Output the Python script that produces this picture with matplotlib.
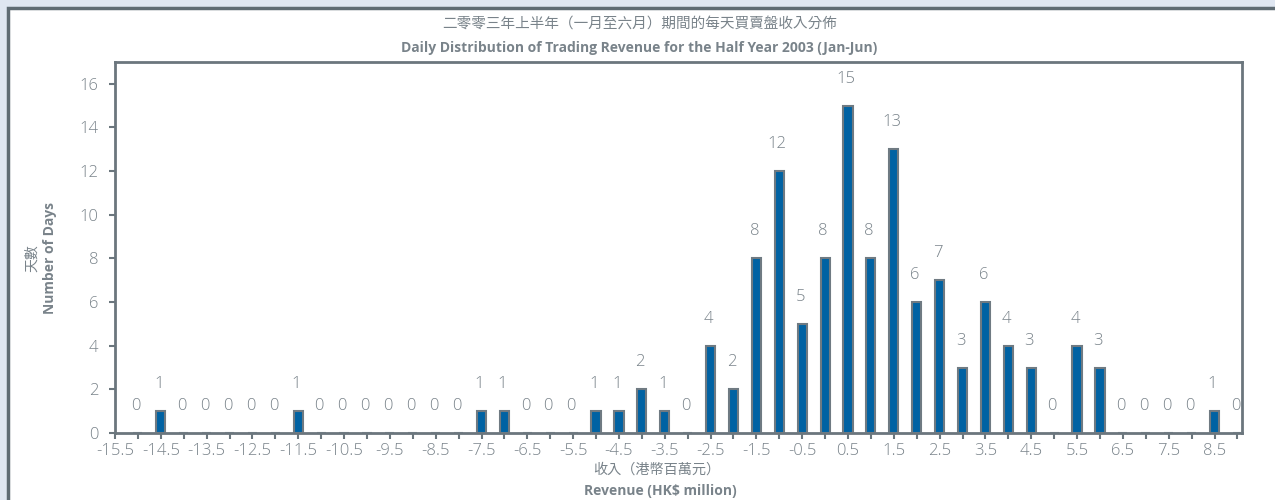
import matplotlib.pyplot as plt
from matplotlib.patches import Rectangle

plt.rcParams['font.family'] = ['Open Sans', 'Noto Sans CJK TC', 'DejaVu Sans']

# revenue buckets (HK$ million) and number of days
revenue = [-15.0, -14.5, -14.0, -13.5, -13.0, -12.5, -12.0, -11.5, -11.0, -10.5,
           -10.0, -9.5, -9.0, -8.5, -8.0, -7.5, -7.0, -6.5, -6.0, -5.5,
           -5.0, -4.5, -4.0, -3.5, -3.0, -2.5, -2.0, -1.5, -1.0, -0.5,
           0.0, 0.5, 1.0, 1.5, 2.0, 2.5, 3.0, 3.5, 4.0, 4.5,
           5.0, 5.5, 6.0, 6.5, 7.0, 7.5, 8.0, 8.5, 9.0]
days = [0, 1, 0, 0, 0, 0, 0, 1, 0, 0,
        0, 0, 0, 0, 0, 1, 1, 0, 0, 0,
        1, 1, 2, 1, 0, 4, 2, 8, 12, 5,
        8, 15, 8, 13, 6, 7, 3, 6, 4, 3,
        0, 4, 3, 0, 0, 0, 0, 1, 0]
tick_labels = ['-15.5', '-14.5', '-13.5', '-12.5', '-11.5', '-10.5', '-9.5', '-8.5',
               '-7.5', '-6.5', '-5.5', '-4.5', '-3.5', '-2.5', '-1.5', '-0.5',
               '0.5', '1.5', '2.5', '3.5', '4.5', '5.5', '6.5', '7.5', '8.5']

grey = '#6b767d'
text_grey = '#79838a'
blue = '#0062a3'

fig = plt.figure(figsize=(12.75, 5), dpi=100, facecolor='#dfe6f1')
# white panel with dark border
fig.patches.append(Rectangle((8 / 1275, -0.01), 1.0, 1 - 8 / 500 + 0.01,
                             transform=fig.transFigure, facecolor='white',
                             edgecolor='#5f6b73', linewidth=2.5, zorder=-5))

ax = fig.add_axes([115 / 1275, 1 - 433 / 500, (1242 - 115) / 1275, (433 - 62) / 500])
ax.set_facecolor('white')

ax.bar(revenue, days, width=0.2, color=blue, edgecolor='#6f7a82', linewidth=1.5, zorder=3)

for x, d in zip(revenue, days):
    ax.annotate(str(d), (x, d), xytext=(-2, 19), textcoords='offset pixels',
                ha='center', va='bottom', fontsize=12, color=text_grey,
                fontweight='light', annotation_clip=False)

ax.set_xlim(-15.5, 9.1)
ax.set_ylim(0, 17)
ticks = [-15.5 + 0.5 * i for i in range(50)]
ax.set_xticks(ticks)
ax.set_xticklabels([tick_labels[i // 2] if i % 2 == 0 else '' for i in range(50)],
                   fontweight='light')
ax.set_yticks(range(0, 17, 2))
ax.set_yticklabels([str(v) for v in range(0, 17, 2)], fontweight='light')

for s in ax.spines.values():
    s.set_color(grey)
    s.set_linewidth(2)
ax.tick_params(axis='both', colors=grey, labelcolor=text_grey, labelsize=12,
               length=4, width=1.5, direction='out')
ax.tick_params(axis='y', pad=8)

fig.text(640 / 1275, 1 - 24 / 500, '二零零三年上半年（一月至六月）期間的每天買賣盤收入分佈',
         ha='center', va='center', fontsize=10.5, color=text_grey)
fig.text(639 / 1275, 1 - 48 / 500, 'Daily Distribution of Trading Revenue for the Half Year 2003 (Jan-Jun)',
         ha='center', va='center', fontsize=10, fontweight='bold', color=text_grey)

fig.text(33 / 1275, 1 - 258 / 500, '天數', rotation=90, ha='center', va='center',
         fontsize=10, color=text_grey)
fig.text(50 / 1275, 1 - 258 / 500, 'Number of Days', rotation=90, ha='center', va='center',
         fontsize=10, fontweight='bold', color=text_grey)

fig.text(657 / 1275, 1 - 470 / 500, '收入（港幣百萬元）', ha='center', va='center',
         fontsize=10.2, color=text_grey)
fig.text(660 / 1275, 1 - 491 / 500, 'Revenue (HK$ million)', ha='center', va='center',
         fontsize=10, fontweight='bold', color=text_grey)

fig.savefig('out.png', dpi=100, facecolor=fig.get_facecolor())
